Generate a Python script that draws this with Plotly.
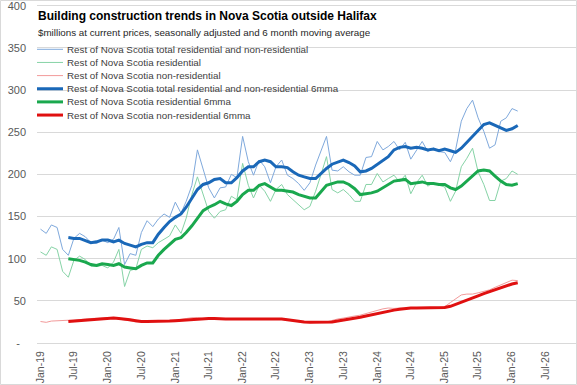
import pandas as pd
import plotly.graph_objects as go

# ---------------- data ----------------
months = pd.date_range("2019-01-01", periods=86, freq="MS")

total = [135, 130, 140, 137, 111, 104, 124, 130, 126, 119, 118, 122,
         119, 123, 137, 93, 106, 104, 131, 145, 138, 147, 153, 149,
         167, 154, 168, 187, 229, 205, 184, 172, 184, 185, 200, 196,
         245, 215, 199, 217, 209, 190, 209, 217, 199, 195, 189, 181,
         190, 211, 227, 245, 205, 204, 209, 203, 199, 199, 220, 221,
         239, 229, 233, 239, 229, 238, 218, 229, 239, 227, 231, 227,
         226, 215, 229, 263, 278, 288, 267, 251, 231, 235, 263, 267, 278, 275]

residential = [108, 104, 114, 111, 85, 78, 98, 103, 99, 91, 91, 92,
               89, 96, 111, 67, 86, 88, 111, 115, 113, 119, 123, 127,
               140, 130, 148, 176, 197, 176, 156, 148, 156, 158, 174, 170,
               213, 187, 172, 187, 180, 168, 182, 188, 176, 170, 164, 158,
               162, 180, 199, 221, 182, 178, 182, 176, 168, 168, 188, 188,
               201, 191, 195, 199, 191, 199, 177, 190, 199, 186, 190, 187,
               185, 168, 180, 209, 219, 231, 203, 188, 169, 169, 192, 195, 204, 200]

nonresidential = [25.5, 24.5, 26, 26.5, 26.5, 27, 27, 28, 28.5, 29, 29.5, 29.5,
                  30, 29.5, 28.5, 27, 26, 25, 25, 25.5, 26, 26, 26, 26.5,
                  27, 28, 29, 30, 30, 29, 29, 28.5, 28, 28, 28.5, 29,
                  29, 29, 29, 29, 29, 29, 29, 28, 27, 26, 25, 24.5,
                  24, 24, 24.5, 25, 27, 28.5, 29.5, 31, 32, 33, 35, 37,
                  39, 40.5, 41.5, 41, 41.5, 41, 41, 41.5, 41, 41, 41.5, 42,
                  43, 48, 52, 57, 58, 58, 59.5, 61, 63, 66, 69, 71, 74.5, 74]

total_6mma = [None] * 5 + [
    125, 124, 124, 121, 119, 120, 122,
    122, 120, 122, 118, 116, 114, 117, 119, 119, 129, 137, 144,
    149, 153, 161, 171, 182, 188, 190, 194, 195, 190, 190, 196,
    204, 209, 209, 215, 217, 215, 209, 209, 208, 203, 199, 197,
    195, 195, 201, 207, 212, 215, 217, 214, 210, 203, 204, 207,
    212, 216, 221, 229, 232, 233, 231, 232, 231, 229, 230, 228,
    230, 228, 226, 231, 238, 245, 253, 259, 261, 258, 255, 252, 254, 258]

residential_6mma = [None] * 5 + [
    100, 99, 98, 96, 93, 92, 94,
    93, 92, 94, 90, 89, 88, 92, 95, 95, 104, 111, 117,
    123, 125, 131, 139, 148, 157, 161, 164, 168, 165, 163, 168,
    176, 181, 181, 187, 189, 185, 181, 181, 180, 179, 176, 174,
    172, 172, 179, 187, 189, 191, 191, 188, 183, 176, 177, 178,
    180, 184, 188, 192, 193, 194, 189, 190, 191, 189, 189, 188,
    188, 184, 182, 186, 192, 199, 204, 205, 204, 198, 192, 188, 187, 189]

nonresidential_6mma = [None] * 5 + [
    25.5, 26, 26.5, 27.5, 28, 28.5, 29,
    29.5, 29.5, 29, 28.5, 27.5, 26.5, 25.5, 25.5, 25.5, 25.5, 25.5, 26,
    26.5, 27, 27.5, 28, 28.5, 29, 29, 29, 28.5, 28.5, 28.5, 28.5,
    28.5, 28.5, 29, 29, 29, 29, 29, 28.5, 27.5, 26.5, 25.5, 25,
    24.5, 24.5, 24.5, 24.5, 25, 26, 27, 28, 29.5, 30.5, 32, 33.5,
    35, 36.5, 38, 39, 40, 41, 41.5, 41.5, 41.5, 41.5, 41.5, 41.5,
    42, 43.5, 46, 48.5, 51, 53.5, 56, 58.5, 61, 63.5, 66, 68, 70, 71.5]

series_names = [
    "Rest of Nova Scotia total residential and non-residential",
    "Rest of Nova Scotia residential",
    "Rest of Nova Scotia non-residential",
    "Rest of Nova Scotia total residential and non-residential 6mma",
    "Rest of Nova Scotia residential 6mma",
    "Rest of Nova Scotia non-residential 6mma",
]
series_values = [total, residential, nonresidential,
                 total_6mma, residential_6mma, nonresidential_6mma]

y_tick_values = [0, 50, 100, 150, 200, 250, 300, 350, 400]
y_tick_labels = ["-\u00a0\u00a0", "50", "100", "150", "200", "250", "300", "350", "400"]

title_text = "Building construction trends in Nova Scotia outside Halifax"
subtitle_text = "$millions at current prices, seasonally adjusted and 6 month moving average"

# ---------------- style ----------------
colors = ["#7fa9dc", "#86d3a6", "#f29a9a", "#1a68b8", "#1aa84e", "#e01010"]
widths = [1, 1, 1, 3, 3, 3]
FONT = "Liberation Sans, Arial, sans-serif"

W, H = 577, 385
ML, MR, MT, MB = 37, 1, 4, 42
PW, PH = W - ML - MR, H - MT - MB


def px_x(p):
    return (p - ML) / PW


def px_y(p):
    return 1 - (p - MT) / PH


fig = go.Figure()
for name, vals, col, w in zip(series_names, series_values, colors, widths):
    fig.add_trace(go.Scatter(x=months, y=vals, name=name, mode="lines",
                             line=dict(color=col, width=w), showlegend=False,
                             hoverinfo="skip"))

shapes = []
annotations = []
# legend rows (manual, to match the compact Excel spacing)
legend_top = 49.3
legend_step = 13.15
for i, (name, col, w) in enumerate(zip(series_names, colors, widths)):
    yy = px_y(legend_top + i * legend_step)
    shapes.append(dict(type="line", xref="paper", yref="paper",
                       x0=px_x(37), x1=px_x(63), y0=yy, y1=yy,
                       line=dict(color=col, width=w)))
    annotations.append(dict(xref="paper", yref="paper", x=px_x(65), y=yy,
                            xanchor="left", yanchor="middle", showarrow=False,
                            text=name, font=dict(family=FONT, size=9.8, color="#404040")))

annotations.append(dict(xref="paper", yref="paper", x=px_x(36), y=px_y(16),
                        xanchor="left", yanchor="middle", showarrow=False,
                        text="<b>" + title_text + "</b>",
                        font=dict(family=FONT, size=12, color="#000000")))
annotations.append(dict(xref="paper", yref="paper", x=px_x(36), y=px_y(32.5),
                        xanchor="left", yanchor="middle", showarrow=False,
                        text=subtitle_text,
                        font=dict(family=FONT, size=9.8, color="#262626")))

# chart border
shapes.append(dict(type="rect", xref="paper", yref="paper",
                   x0=px_x(0.5), x1=px_x(576.5), y0=px_y(384.5), y1=px_y(0.5),
                   line=dict(color="#d9d9d9", width=1), layer="below"))

fig.update_layout(
    width=W, height=H,
    margin=dict(l=ML, r=MR, t=MT, b=MB),
    paper_bgcolor="white", plot_bgcolor="white",
    showlegend=False,
    shapes=shapes, annotations=annotations,
    xaxis=dict(type="date", range=["2018-12-13", "2026-12-14"],
               tick0="2019-01-01", dtick="M6", tickformat="%b-%y",
               tickangle=-90, showgrid=False, zeroline=False,
               showline=True, linecolor="#d9d9d9", linewidth=1,
               ticks="", ticklabelstandoff=3,
               tickfont=dict(family=FONT, size=10.5, color="#595959")),
    yaxis=dict(range=[0, 402], tickmode="array", tickvals=y_tick_values,
               ticktext=y_tick_labels, showgrid=True, gridcolor="#d9d9d9",
               gridwidth=1, zeroline=False, showline=False, ticks="",
               ticklabelstandoff=10, ticklabeloverflow="allow",
               tickfont=dict(family=FONT, size=11, color="#595959")),
)

fig.write_html("out.html", config={"displayModeBar": False},
               post_script="document.body.style.margin='0';document.body.style.padding='0';")
